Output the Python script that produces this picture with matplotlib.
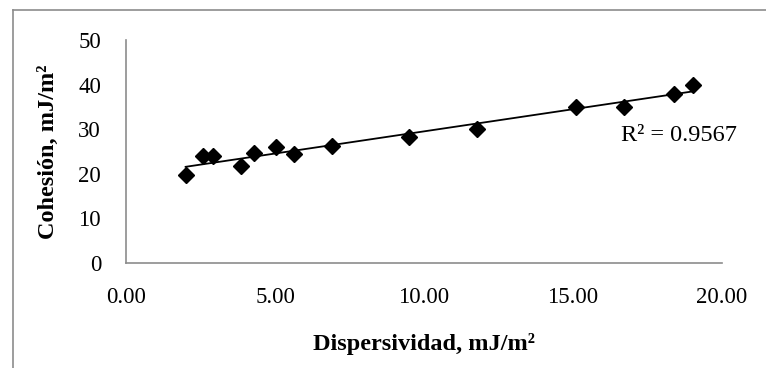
import numpy as np
import matplotlib.pyplot as plt
from matplotlib.lines import Line2D

plt.rcParams['font.family'] = ['Liberation Serif', 'DejaVu Serif']

# Dispersividad vs cohesion (mJ/m2)
dispersividad = [2.00, 2.57, 2.93, 3.87, 4.30, 5.02, 5.64, 6.92, 9.51, 11.79, 15.10, 16.70, 18.40, 19.04]
cohesion = [19.7, 24.0, 24.0, 21.7, 24.7, 25.9, 24.5, 26.3, 28.3, 30.0, 35.0, 35.0, 38.0, 40.0]
r2_text = 'R² = 0.9567'

x = np.array(dispersividad)
y = np.array(cohesion)
m, b = np.polyfit(x, y, 1)
xf = np.array([x.min(), x.max()])

fig = plt.figure(figsize=(7.66, 3.68), dpi=100)
ax = fig.add_axes([0.1645, 0.2853, 0.7781, 0.606])

ax.plot(xf, m * xf + b, color='black', linewidth=1.3, zorder=2)
ax.plot(x, y, 'D', color='black', markersize=8.5, zorder=3)
ax.text(16.62, 28.7, r2_text, fontsize=17.5, ha='left', va='center')

ax.set_xlim(0, 20)
ax.set_ylim(0, 50)
ax.set_xticks([0, 5, 10, 15, 20])
ax.set_xticklabels(['0.00', '5.00', '10.00', '15.00', '20.00'])
ax.set_yticks([0, 10, 20, 30, 40, 50])
ax.tick_params(length=0, labelsize=16.5)
ax.tick_params(axis='x', pad=17)
ax.tick_params(axis='y', pad=18)
for s in ['top', 'right']:
    ax.spines[s].set_visible(False)
for s in ['left', 'bottom']:
    ax.spines[s].set_color('#8c8c8c')
    ax.spines[s].set_linewidth(1.2)

ax.set_xlabel('Dispersividad, mJ/m²', fontsize=17.5, fontweight='bold', labelpad=18)
ax.set_ylabel('Cohesión, mJ/m²', fontsize=17.5, fontweight='bold', labelpad=14)

# chart frame (cropped at right/bottom)
fig.add_artist(Line2D([13 / 766, 1.0], [1 - 10 / 368, 1 - 10 / 368], color='#8c8c8c', linewidth=1.2, transform=fig.transFigure))
fig.add_artist(Line2D([13 / 766, 13 / 766], [0.0, 1 - 10 / 368], color='#8c8c8c', linewidth=1.2, transform=fig.transFigure))

fig.savefig('out.png', dpi=100)
